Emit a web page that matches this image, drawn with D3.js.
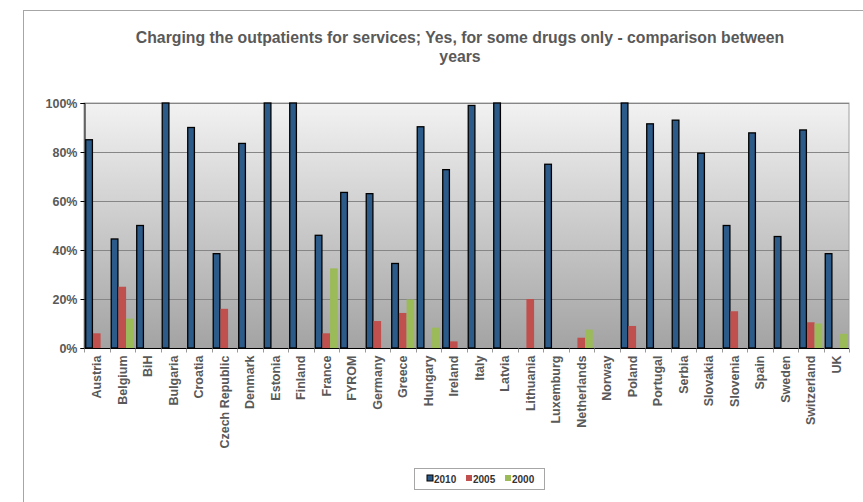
<!DOCTYPE html>
<html><head><meta charset="utf-8">
<script src="https://cdn.jsdelivr.net/npm/d3@7"></script>
<style>body{margin:0;background:#fff;}svg{display:block;font-family:"Liberation Sans",Arial,sans-serif;}</style>
</head><body>
<svg id="c" width="863" height="502"></svg>
<script>
const countries = ["Austria","Belgium","BiH","Bulgaria","Croatia","Czech Republic","Denmark","Estonia","Finland","France","FYROM","Germany","Greece","Hungary","Ireland","Italy","Latvia","Lithuania","Luxemburg","Netherlands","Norway","Poland","Portugal","Serbia","Slovakia","Slovenia","Spain","Sweden","Switzerland","UK"];
const years = ["2010","2005","2000"];
const v2010 = [85,44.5,50,100,90,38.5,83.5,100,100,46,63.5,63,34.5,90.3,72.8,99,100,0,75,0,0,100,91.5,93,79.5,50,87.8,45.5,89,38.5];
const v2005 = [6,25,0,0,0,16,0,0,0,6,0,11,14.3,0,2.7,0,0,20,0,4.2,0,9,0,0,0,15,0,0,10.5,0];
const v2000 = [0,12,0,0,0,0,0,0,0,32.5,0,0,19.8,8.3,0,0,0,0,0,7.5,0,0,0,0,0,0,0,0,10,5.8];
const yTicks = [0,20,40,60,80,100];
const colors = {"2010":"#2C5B8A","2005":"#C0504D","2000":"#9BBB59"};
const seriesVals = {"2010":v2010,"2005":v2005,"2000":v2000};

const svg = d3.select("#c");
const L=84, R=849, T=103, B=348;

// outer frame
svg.append("rect").attr("x",23.5).attr("y",10.5).attr("width",900).attr("height",600)
  .attr("fill","none").attr("stroke","#a6a6a6").attr("stroke-width",1);

// title
const title = svg.append("text").attr("x",460).attr("y",43).attr("text-anchor","middle")
  .attr("font-size",15.8).attr("font-weight","bold").attr("fill","#595959");
title.append("tspan").attr("x",460).attr("dy",0).text("Charging the outpatients for services; Yes, for some drugs only - comparison between");
title.append("tspan").attr("x",460).attr("dy",19).text("years");

const x0 = d3.scaleBand().domain(countries).range([L,R]).padding(0);
const x1 = d3.scaleBand().domain(years).range([0,x0.bandwidth()]).paddingInner(0).paddingOuter(0.16);
const y = d3.scaleLinear().domain([0,100]).range([B,T]);

// gradient background
const defs = svg.append("defs");
const g = defs.append("linearGradient").attr("id","bg").attr("x1",0).attr("y1",0).attr("x2",0).attr("y2",1);
g.append("stop").attr("offset","0%").attr("stop-color","#f2f2f2");
g.append("stop").attr("offset","100%").attr("stop-color","#a3a3a3");
svg.append("rect").attr("x",L).attr("y",T).attr("width",R-L).attr("height",B-T).attr("fill","url(#bg)")
  .attr("stroke","#a0a0a0").attr("stroke-width",1);

// gridlines
svg.append("g").selectAll("line").data(yTicks.filter(d=>d>0)).join("line")
  .attr("x1",L).attr("x2",R).attr("y1",d=>Math.round(y(d))+0.5).attr("y2",d=>Math.round(y(d))+0.5)
  .attr("stroke","#868686").attr("stroke-width",1);

// bars
const groups = svg.append("g").selectAll("g").data(countries).join("g")
  .attr("transform",d=>`translate(${x0(d)},0)`);
years.forEach(yr=>{
  groups.filter((d,i)=>seriesVals[yr][i]>0).append("rect")
    .attr("x",d=>x1(yr)+(yr==="2010"?0.5:0))
    .attr("width",x1.bandwidth()-(yr==="2010"?1:0))
    .attr("y",d=>y(seriesVals[yr][countries.indexOf(d)]))
    .attr("height",d=>B-y(seriesVals[yr][countries.indexOf(d)]))
    .attr("fill",colors[yr])
    .attr("stroke",yr==="2010"?"#000":"none").attr("stroke-width",1.3);
});

// y axis
const yAxis = d3.axisLeft(y).tickValues(yTicks).tickFormat(d=>d+"%").tickSize(4).tickPadding(3);
const ya = svg.append("g").attr("transform",`translate(${L+0.5},0)`).call(yAxis);
ya.select(".domain").attr("stroke","#000");
ya.selectAll(".tick line").attr("stroke","#000");
ya.selectAll("text").attr("font-size",12.5).attr("font-weight","bold").attr("fill","#595959")
  .attr("font-family","Liberation Sans, Arial, sans-serif");

// x axis
const xa = svg.append("g").attr("transform",`translate(0,${B+0.5})`);
xa.append("line").attr("x1",L).attr("x2",R).attr("stroke","#000");
const tickPos = countries.map(c=>x0(c)).concat([R]);
xa.selectAll("line.t").data(tickPos).join("line").attr("class","t")
  .attr("x1",d=>Math.round(d)+0.5).attr("x2",d=>Math.round(d)+0.5).attr("y1",0).attr("y2",4).attr("stroke","#999");
xa.selectAll("text").data(countries).join("text")
  .attr("transform",d=>`translate(${x0(d)+x0.bandwidth()/2+4.5},7) rotate(-90)`)
  .attr("text-anchor","end").attr("font-size",12.5).attr("font-weight","bold").attr("fill","#595959")
  .text(d=>d);

// legend
const lg = svg.append("g");
lg.append("rect").attr("x",414.5).attr("y",468.5).attr("width",130).attr("height",21)
  .attr("fill","#fff").attr("stroke","#a6a6a6");
const lx = [427,466,505];
years.forEach((yr,i)=>{
  lg.append("rect").attr("x",lx[i]).attr("y",475).attr("width",6).attr("height",6)
    .attr("fill",colors[yr]).attr("stroke",yr==="2010"?"#000":"none");
  lg.append("text").attr("x",lx[i]+7).attr("y",482.5).attr("font-size",10).attr("font-weight","bold")
    .attr("fill","#333").text(yr);
});
</script>
</body></html>
